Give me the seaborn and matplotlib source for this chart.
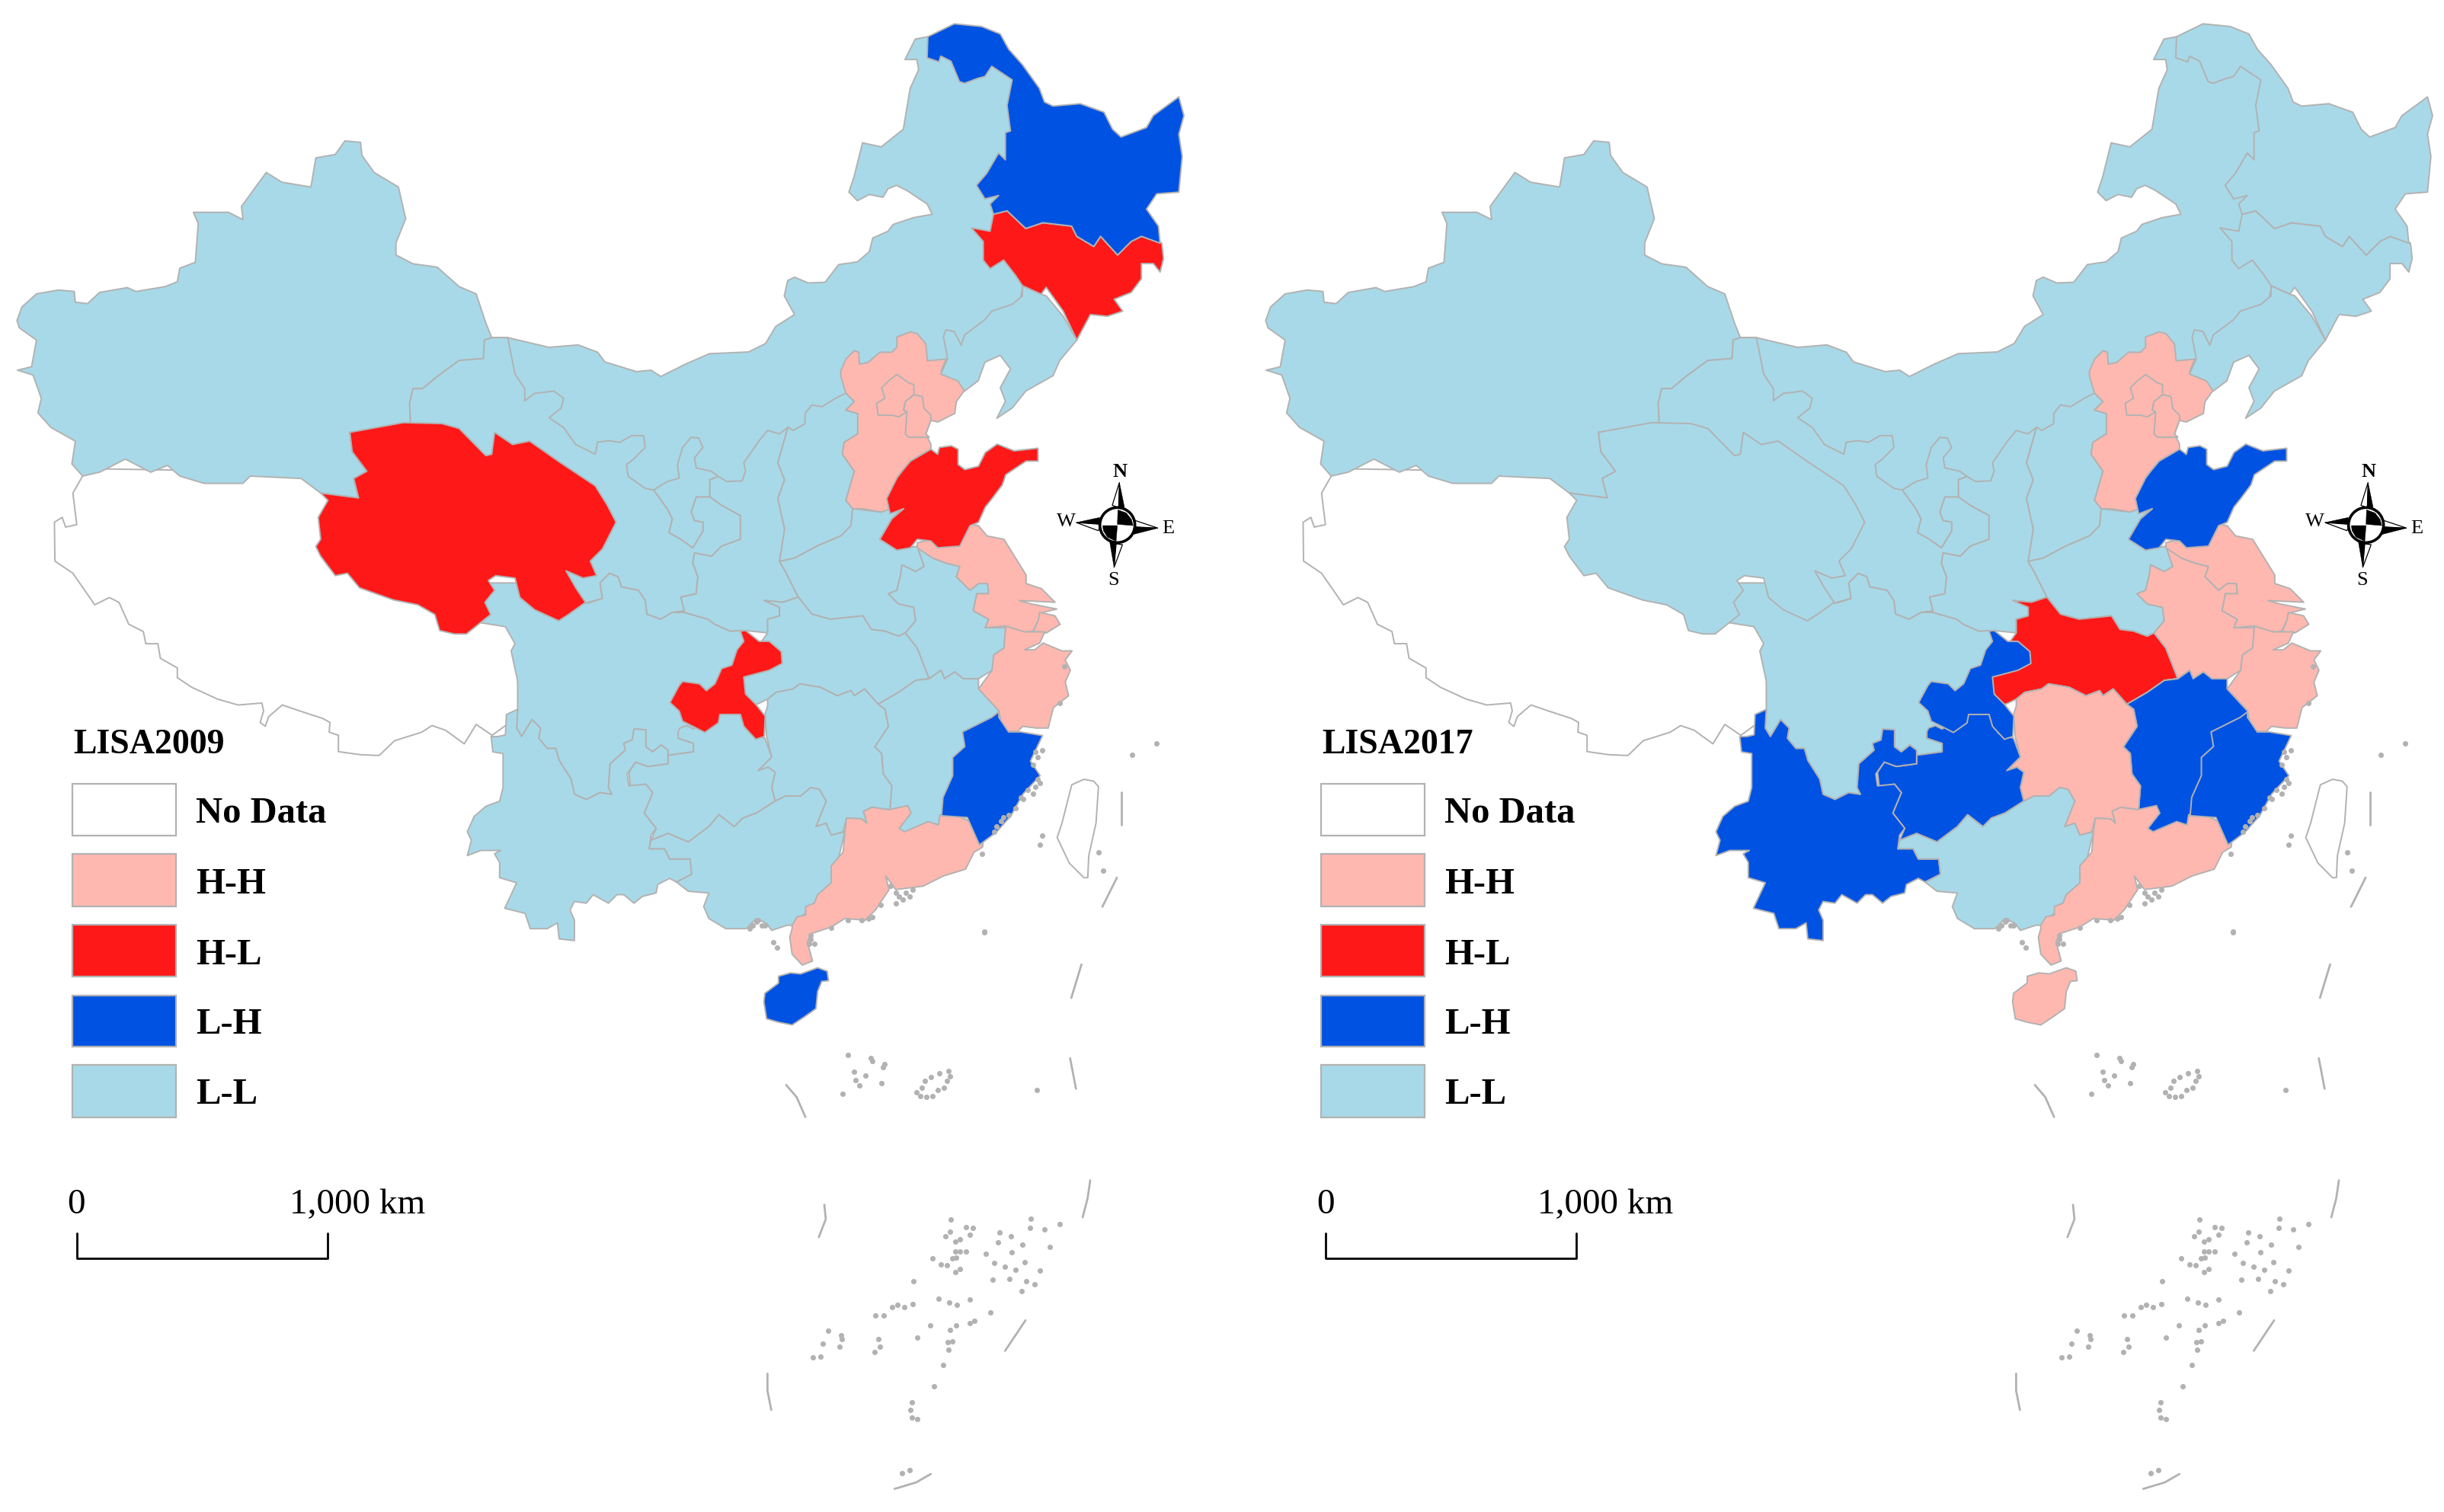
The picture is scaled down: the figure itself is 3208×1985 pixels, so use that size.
import matplotlib
matplotlib.use('Agg')
import matplotlib.pyplot as plt
import numpy as np
import pandas as pd
import seaborn as sns

from matplotlib.patches import Circle, Rectangle


# pixel grids the outlines were read on: x0, y0, x scale, y scale
GRIDS = {
    'A': (0, 0, 1.568, 1.568),
    'B': (900, 0, 2.24, 2.24),
    'C': (600, 650, 1.568, 2.0907),
    'E': (0, 900, 2.24, 1.96),
    'F': (950, 1200, 2.613, 1.997),
    'G': (800, 400, 2.24, 2.24),
    'H': (600, 900, 2.24, 2.24),
    'K': (1350, 580, 3, 3),
}

# province outlines, traced; drawn in the order of PROVINCES so each one only
# has to be exact where it lies over the ones before it
TIBET = [
    ('A', [(170, 980), (150, 1015), (158, 1080), (135, 1085), (128, 1065), (112, 1075), (113, 1155),
           (150, 1180), (195, 1245), (225, 1230), (245, 1240), (265, 1285), (295, 1300), (300, 1325),
           (325, 1325), (330, 1355), (365, 1375), (365, 1395), (395, 1415)]),
    ('E', [(590, 15), (640, 35), (700, 50), (770, 45), (775, 65), (765, 95), (780, 105), (790, 80),
           (830, 50), (880, 65), (950, 85), (970, 95), (968, 120), (995, 128), (995, 170), (1060, 178),
           (1115, 180), (1160, 142), (1240, 120), (1270, 103), (1310, 115), (1365, 150), (1400, 100),
           (1447, 128)]),
    ('A', [(1100, 1450), (1100, 1300), (900, 1100), (800, 1030), (700, 960), (500, 970), (200, 965)]),
]
XINJIANG = [
    ('A', [(35, 660), (45, 632), (75, 605), (120, 597), (153, 600), (155, 622), (180, 625), (205, 602),
           (262, 592), (280, 600), (340, 590), (365, 580), (370, 552), (402, 540), (408, 460), (398, 437),
           (470, 437), (500, 452), (497, 425), (548, 355), (580, 375), (640, 385), (650, 325), (690, 318),
           (710, 290), (742, 293), (745, 320), (770, 355), (820, 385), (835, 450), (815, 500), (815, 525),
           (850, 543), (900, 550), (945, 590), (980, 605), (1000, 665), (1012, 695), (997, 700), (995, 738),
           (945, 742), (900, 775), (870, 800), (850, 800), (843, 830), (845, 870), (720, 890), (725, 930),
           (755, 970), (728, 985), (738, 1025), (660, 1015), (620, 985), (515, 980), (500, 995), (420, 995),
           (370, 980), (345, 958), (310, 972), (258, 945), (205, 972), (170, 980), (148, 955), (155, 908),
           (105, 880), (78, 850), (85, 820), (68, 772), (36, 762), (65, 755), (75, 700), (40, 675)]),
]
INNER_MONGOLIA = [
    ('A', [(1012, 695), (1045, 695), (1130, 715), (1190, 710), (1230, 725), (1245, 745), (1310, 765),
           (1340, 762), (1360, 775), (1410, 750)]),
    ('B', [(70, 1040), (185, 1035), (235, 1010), (265, 960), (320, 925), (290, 870), (300, 825), (320, 815),
           (360, 832), (410, 830), (450, 778), (505, 770), (540, 740), (550, 700), (595, 680), (610, 660),
           (670, 640), (725, 630), (710, 600), (650, 560), (620, 545), (595, 555), (580, 580), (540, 572),
           (505, 590), (480, 565), (495, 520), (520, 420), (575, 432), (640, 380), (660, 260), (685, 205),
           (680, 175), (645, 175), (675, 115), (712, 108), (800, 150), (900, 150), (1000, 230), (1100, 500),
           (1000, 800), (960, 1000)]),
    ('G', [(850, 300), (600, 500), (350, 600), (130, 600), (30, 520), (30, 450)]),
    ('A', [(1200, 1000), (1100, 900), (1020, 800), (1012, 720)]),
]
GANSU = [
    ('A', [(1012, 695), (1045, 695), (1060, 770), (1080, 800), (1080, 825), (1100, 810), (1140, 805),
           (1160, 820), (1155, 840), (1130, 860), (1160, 880), (1185, 915), (1225, 935), (1230, 910)]),
    ('G', [(0, 400), (30, 405), (65, 385), (100, 385), (105, 420), (70, 455), (50, 470), (55, 505), (105, 540),
           (130, 545), (170, 600), (185, 630), (175, 670), (210, 690), (245, 715), (275, 665), (275, 640),
           (250, 635), (240, 610), (255, 565), (295, 565), (330, 590), (385, 620), (385, 690), (330, 710),
           (300, 740), (250, 730), (245, 760), (260, 800), (255, 850), (210, 860), (220, 900), (185, 905),
           (150, 925), (110, 910), (105, 870), (85, 840), (35, 830), (25, 800), (0, 790)]),
    ('A', [(1235, 1200), (1240, 1232), (1210, 1240), (1205, 1242), (1140, 1170), (900, 920), (845, 870),
           (843, 830), (850, 800), (870, 800), (900, 775), (945, 742), (995, 738), (997, 700)]),
]
SICHUAN = [
    ('A', [(1205, 1242), (1215, 1240), (1240, 1232), (1235, 1200)]),
    ('G', [(0, 790), (25, 800), (35, 830), (85, 840), (105, 870), (110, 910), (150, 925), (185, 905), (220, 905),
           (290, 925), (310, 940), (355, 960), (385, 958), (420, 1050), (400, 1170), (300, 1210), (250, 1235)]),
    ('H', [(700, 140), (650, 145), (650, 155), (695, 170), (695, 195), (620, 205), (620, 190), (600, 175),
           (575, 195), (555, 180), (555, 130), (520, 128), (515, 160), (490, 170), (495, 190), (450, 230),
           (445, 300), (455, 320), (420, 315), (380, 335), (345, 320), (335, 275), (300, 220), (290, 185),
           (265, 185), (240, 155), (245, 125), (220, 100), (190, 150), (175, 125), (178, 70), (178, 0)]),
    ('A', [(1065, 1400), (1052, 1340), (1060, 1325), (1040, 1290), (990, 1282), (980, 1200), (1100, 1200)]),
]
QINGHAI = [
    ('A', [(720, 890), (830, 870), (910, 872), (945, 882), (1000, 938), (1012, 935), (1018, 890), (1055, 915),
           (1090, 908), (1150, 950), (1225, 1000), (1250, 1040), (1268, 1075), (1240, 1130), (1215, 1155),
           (1228, 1185), (1200, 1190), (1165, 1175), (1185, 1210), (1205, 1240), (1170, 1265), (1150, 1278),
           (1100, 1255), (1070, 1230), (1060, 1190), (1020, 1185), (1005, 1195), (1018, 1215), (998, 1240),
           (1010, 1265), (985, 1285), (960, 1305), (935, 1305), (905, 1298), (895, 1265), (860, 1245),
           (810, 1235), (740, 1210), (715, 1180), (690, 1185), (660, 1145), (650, 1125), (660, 1110),
           (655, 1065), (675, 1030), (660, 1015), (738, 1025), (728, 985), (755, 970), (725, 930)]),
]
NINGXIA = [
    ('G', [(240, 390), (262, 392), (275, 420), (250, 450), (255, 480), (300, 490), (320, 505), (295, 515),
           (295, 565), (255, 565), (240, 610), (250, 635), (275, 640), (275, 665), (245, 715), (210, 690),
           (175, 670), (185, 630), (170, 600), (130, 545), (170, 520), (205, 510), (200, 470), (215, 420)]),
]
SHAANXI = [
    ('G', [(295, 515), (320, 505), (345, 520), (390, 518), (400, 490), (395, 465), (440, 400), (465, 370),
           (500, 380), (525, 360), (495, 465), (515, 515), (495, 570), (515, 660), (500, 755), (520, 790),
           (555, 860), (510, 875), (455, 870), (500, 890), (500, 915), (465, 925), (465, 965), (395, 958),
           (355, 960), (310, 940), (290, 925), (220, 905), (220, 900), (210, 860), (255, 850), (260, 800),
           (245, 760), (250, 730), (300, 740), (330, 710), (385, 690), (385, 620), (330, 590), (295, 565)]),
]
SHANXI = [
    ('G', [(525, 360), (540, 370), (575, 350), (575, 320), (595, 295), (625, 300), (665, 275), (695, 260),
           (720, 285), (695, 310), (730, 320), (730, 380), (690, 405), (685, 440), (720, 490), (695, 575),
           (715, 600), (710, 650), (680, 680), (610, 710), (545, 745), (500, 755), (515, 660), (495, 570),
           (515, 515), (495, 465)]),
]
HEBEI = [
    ('G', [(680, 195), (695, 160), (720, 135), (733, 140), (735, 175), (760, 170), (795, 140), (830, 140),
           (845, 125), (845, 95), (885, 80), (905, 85), (930, 115), (935, 165), (990, 160), (975, 195),
           (1020, 215), (1045, 250), (1020, 285), (1015, 320), (965, 345), (945, 340), (930, 380), (945, 410),
           (945, 425), (885, 460), (860, 490), (845, 510), (825, 570), (860, 600), (800, 610), (745, 600),
           (715, 600), (695, 575), (720, 490), (685, 440), (690, 405), (730, 380), (730, 320), (695, 310),
           (720, 285), (695, 260), (680, 210)]),
]
BEIJING = [
    ('G', [(845, 205), (880, 230), (895, 235), (895, 265), (870, 285), (865, 310), (875, 315), (850, 330),
           (830, 325), (790, 325), (785, 290), (810, 275), (800, 245), (820, 225)]),
]
TIANJIN = [
    ('G', [(895, 265), (920, 270), (925, 305), (945, 325), (945, 340), (930, 380), (940, 390), (880, 390),
           (870, 380), (875, 315), (865, 310), (870, 285)]),
]
LIAONING = [
    ('B', [(990, 840), (990, 870), (960, 895), (900, 915), (880, 940), (820, 985), (810, 1015), (790, 975),
           (765, 970), (758, 990), (770, 1055), (750, 1100), (800, 1120), (820, 1150), (860, 1120), (880, 1065),
           (925, 1045), (955, 1085), (925, 1140), (940, 1180), (915, 1230), (960, 1200), (1000, 1150),
           (1080, 1105), (1100, 1060), (1150, 1000), (1110, 930), (1060, 870), (1045, 865)]),
]
JILIN = [
    ('B', [(905, 630), (895, 680), (840, 670), (875, 710), (875, 765), (895, 790), (935, 765), (970, 810),
           (990, 840), (1045, 865), (1060, 845), (1110, 915), (1150, 1000), (1190, 925), (1240, 930), (1285, 915),
           (1260, 880), (1310, 860), (1340, 820), (1340, 775), (1375, 775), (1395, 800), (1405, 760), (1400, 715),
           (1340, 695), (1310, 710), (1270, 750), (1220, 695), (1200, 725), (1150, 695), (1135, 665), (1050, 655),
           (1000, 672), (945, 620)]),
]
HEILONGJIANG = [
    ('B', [(712, 108), (790, 70), (870, 78), (925, 100), (950, 145), (990, 190), (1040, 260), (1055, 300),
           (1080, 312), (1160, 305), (1230, 330), (1255, 380), (1280, 403), (1355, 375), (1375, 340), (1450, 285),
           (1465, 340), (1450, 395), (1460, 460), (1450, 565), (1385, 570), (1355, 615), (1390, 665), (1395, 715),
           (1340, 695), (1310, 710), (1270, 750), (1220, 695), (1200, 725), (1150, 695), (1135, 665), (1050, 655),
           (1000, 672), (945, 620), (905, 630), (895, 600), (920, 575), (900, 580), (880, 585), (855, 545),
           (885, 510), (920, 450), (940, 470), (940, 390), (955, 385), (945, 310), (960, 235), (900, 195),
           (880, 225), (860, 230), (820, 245), (805, 240), (780, 180), (750, 165), (745, 182), (710, 170)]),
]
HENAN = [
    ('G', [(500, 755), (545, 745), (610, 710), (680, 680), (710, 650), (715, 600), (800, 610), (825, 600),
           (860, 600), (830, 630), (795, 690), (850, 720), (905, 710), (925, 770), (900, 785), (860, 765),
           (855, 800), (845, 840), (820, 850), (850, 880), (895, 890), (900, 930), (870, 965), (850, 975),
           (810, 960), (770, 955), (745, 915), (650, 925), (595, 910), (555, 860), (520, 790)]),
]
HUBEI = [
    ('G', [(555, 860), (595, 910), (650, 925), (745, 915), (770, 955), (810, 960), (850, 975), (870, 965),
           (905, 1010), (940, 1100), (900, 1105), (850, 1140), (790, 1175), (750, 1130), (720, 1150), (710, 1135),
           (670, 1150), (620, 1125), (560, 1115), (540, 1130), (490, 1140), (465, 1160), (440, 1172), (420, 1180),
           (370, 1090), (440, 1000), (465, 965), (465, 925), (500, 915), (500, 890), (455, 870), (510, 875)]),
]
ANHUI = [
    ('G', [(900, 1105), (940, 1100), (975, 1075), (985, 1100), (1015, 1080), (1040, 1100), (1085, 1100),
           (1125, 1075), (1130, 1030), (1160, 1010), (1165, 950), (1105, 950), (1115, 925), (1070, 900),
           (1080, 850), (1115, 850), (1112, 820), (1085, 820), (1060, 840), (1020, 800), (1030, 770), (990, 760),
           (950, 745), (925, 720), (905, 710), (925, 770), (900, 785), (860, 765), (855, 800), (845, 840),
           (820, 850), (850, 880), (895, 890), (900, 930), (870, 965), (905, 1010), (940, 1100)]),
]
JIANGSU = [
    ('G', [(905, 700), (945, 690), (965, 700), (1030, 700), (1060, 645), (1085, 650), (1110, 680), (1160, 690),
           (1225, 795), (1225, 820), (1270, 835), (1310, 875), (1205, 870), (1240, 880), (1315, 895), (1275, 905),
           (1260, 930), (1245, 960), (1220, 965), (1165, 945), (1105, 950), (1115, 925), (1070, 900), (1080, 850),
           (1115, 850), (1112, 820), (1085, 820), (1060, 840), (1020, 800), (1030, 770), (990, 760), (950, 745),
           (905, 715)]),
]
SHANDONG = [
    ('G', [(945, 425), (965, 440), (970, 420), (1005, 415), (1025, 425), (1025, 470), (1045, 485), (1085, 475),
           (1105, 435), (1140, 410), (1190, 430), (1260, 422), (1260, 460), (1225, 460), (1165, 500), (1155, 530),
           (1125, 570), (1105, 595), (1085, 640), (1060, 650), (1030, 710), (965, 715), (945, 695), (905, 690),
           (885, 715), (845, 722), (795, 690), (830, 630), (865, 600), (825, 615), (815, 570), (845, 510),
           (860, 490), (885, 460)]),
]
SHANGHAI = [
    ('G', [(1265, 905), (1310, 915), (1325, 940), (1285, 965), (1245, 965), (1260, 930)]),
]
ZHEJIANG = [
    ('G', [(1165, 945), (1220, 962), (1245, 962), (1280, 962), (1265, 995), (1220, 1015), (1250, 1015),
           (1275, 995), (1330, 1018), (1360, 1018), (1340, 1045), (1355, 1075), (1340, 1110), (1350, 1150),
           (1305, 1185), (1290, 1245), (1255, 1245), (1215, 1240), (1200, 1255), (1165, 1255), (1145, 1215),
           (1145, 1195), (1085, 1130), (1125, 1075), (1130, 1030), (1160, 1010)]),
]
JIANGXI = [
    ('G', [(790, 1175), (850, 1140), (900, 1105), (940, 1100), (975, 1075), (985, 1100), (1015, 1080),
           (1040, 1100), (1085, 1100), (1085, 1130), (1145, 1195), (1160, 1270), (1100, 1400), (1060, 1500)]),
    ('H', [(1425, 400), (1420, 450), (1290, 450), (1240, 400), (1272, 365)]),
    ('G', [(825, 1480), (830, 1415), (805, 1380), (800, 1320), (780, 1300), (820, 1240), (810, 1190)]),
]
HUNAN = [
    ('G', [(457, 1205), (465, 1180), (465, 1160), (490, 1140), (540, 1130), (560, 1115), (620, 1125), (670, 1150),
           (710, 1135), (720, 1150), (750, 1130), (790, 1175), (810, 1190), (820, 1240), (780, 1300), (800, 1320),
           (805, 1380), (830, 1415), (825, 1480)]),
    ('H', [(1272, 365), (1220, 358), (1195, 370), (1205, 405), (1190, 392), (1145, 390), (1135, 430),
           (1100, 440), (1085, 405), (1055, 415), (1085, 340), (1065, 305), (1040, 300), (1010, 325), (965, 325),
           (935, 340), (925, 300), (935, 255), (915, 240), (885, 250), (925, 210), (910, 150)]),
]
GUIZHOU = [
    ('H', [(505, 255), (525, 225), (560, 238), (620, 230), (620, 205), (695, 195), (695, 170), (650, 155),
           (650, 135), (655, 125), (675, 118), (695, 128), (705, 120), (740, 100), (770, 80), (840, 85),
           (860, 140), (905, 155), (925, 210), (885, 250), (915, 240), (935, 255), (925, 300), (935, 340),
           (880, 375), (840, 390), (815, 415), (770, 380), (740, 415), (680, 460), (620, 435), (570, 455),
           (585, 420), (550, 375), (575, 315), (555, 290), (510, 300)]),
]
YUNNAN = [
    ('H', [(145, 85), (178, 70), (175, 125), (190, 150), (220, 100), (245, 125), (240, 155), (265, 185),
           (290, 185), (300, 220), (335, 275), (345, 320), (380, 335), (420, 315), (455, 320), (445, 300),
           (450, 230), (495, 190), (490, 170), (515, 160), (520, 128), (555, 130), (555, 180), (575, 195),
           (600, 175), (620, 190), (620, 230), (560, 238), (525, 225), (500, 260), (505, 295), (555, 290),
           (575, 315), (550, 375), (585, 420), (570, 440), (565, 480), (610, 480), (625, 510), (685, 510),
           (690, 555), (645, 578), (625, 567), (590, 585), (585, 610), (545, 620), (520, 640), (490, 615),
           (470, 615), (445, 640), (400, 615), (380, 640), (345, 635), (332, 660), (345, 690), (345, 750),
           (300, 745), (295, 698), (265, 715), (215, 715), (200, 670), (140, 655), (175, 580), (125, 565),
           (125, 520), (110, 495), (128, 485), (70, 485), (30, 500), (42, 455), (30, 430), (50, 385), (85, 355),
           (125, 340), (135, 300), (135, 200), (105, 195), (100, 150), (120, 150), (142, 145)]),
]
CHONGQING = [
    ('G', [(385, 960), (400, 958), (440, 990), (470, 990), (505, 1020), (508, 1055), (470, 1075), (395, 1095),
           (400, 1145), (430, 1175), (458, 1210), (455, 1270), (430, 1278), (395, 1240), (385, 1205), (355, 1205),
           (325, 1205), (320, 1230), (280, 1258), (255, 1245), (215, 1225), (205, 1195), (178, 1170), (205, 1120),
           (215, 1108), (265, 1115), (285, 1135), (310, 1115), (330, 1070), (360, 1060), (375, 1015), (395, 990)]),
]
GUANGXI = [
    ('H', [(1140, 430), (1100, 440), (1085, 405), (1055, 415), (1085, 340), (1065, 305), (1040, 300), (1010, 325),
           (965, 325), (935, 340), (880, 375), (840, 390), (815, 415), (770, 380), (740, 415), (680, 460),
           (620, 435), (570, 455), (565, 480), (610, 480), (625, 510), (685, 510), (690, 555), (645, 578),
           (680, 605), (740, 610), (725, 650), (740, 685), (790, 715), (850, 715), (880, 685), (910, 700),
           (925, 720), (970, 705), (985, 705), (1100, 600)]),
]
GUANGDONG = [
    ('H', [(985, 705), (1000, 680), (1025, 675), (1025, 650), (1050, 640), (1060, 615), (1100, 580), (1100, 530),
           (1135, 490), (1140, 430), (1145, 390), (1190, 392), (1205, 405), (1195, 370), (1220, 358), (1270, 365),
           (1325, 353), (1335, 375), (1300, 420), (1315, 430), (1385, 400), (1415, 410), (1420, 380), (1445, 370),
           (1550, 420), (1545, 475), (1520, 490), (1495, 540), (1430, 560), (1370, 590), (1290, 600), (1260, 560),
           (1270, 600), (1230, 660), (1200, 690), (1140, 685), (1100, 710), (1040, 730), (1030, 755), (1045, 810),
           (1015, 822), (985, 790), (978, 740), (985, 715)]),
]
FUJIAN = [
    ('C', [(1115, 595), (1100, 610), (1040, 650), (1045, 690), (1020, 720), (1020, 770), (1000, 830), (997, 880),
           (1050, 885), (1075, 960), (1110, 925), (1140, 880), (1165, 820), (1200, 770), (1180, 730), (1205, 660),
           (1160, 650), (1135, 650), (1115, 610)]),
]
HAINAN = [
    ('H', [(945, 855), (980, 845), (1010, 848), (1060, 830), (1088, 840), (1092, 868), (1072, 870), (1060, 900),
           (1055, 950), (1020, 975), (985, 998), (945, 990), (910, 980), (902, 930), (905, 905), (945, 875)]),
]
TAIWAN = [
    ('C', [(1290, 780), (1265, 795), (1245, 900), (1235, 940), (1260, 1010), (1290, 1050), (1298, 1050),
           (1300, 990), (1315, 900), (1320, 800), (1310, 785)]),
]

PROVINCES = [
    TIBET, XINJIANG, INNER_MONGOLIA, GANSU, SICHUAN, QINGHAI, NINGXIA, SHAANXI, SHANXI, HEBEI, BEIJING, TIANJIN,
    LIAONING, JILIN, HEILONGJIANG, HENAN, HUBEI, ANHUI, JIANGSU, SHANDONG, SHANGHAI, ZHEJIANG, JIANGXI, HUNAN,
    GUIZHOU, YUNNAN, CHONGQING, GUANGXI, GUANGDONG, FUJIAN, HAINAN, TAIWAN,
]

# class of each province, same order as PROVINCES
LISA_2009 = [
    'No Data', 'L-L', 'L-L', 'L-L', 'L-L', 'H-L', 'L-L', 'L-L', 'L-L', 'H-H', 'H-H', 'H-H',
    'L-L', 'H-L', 'L-H', 'L-L', 'L-L', 'L-L', 'H-H', 'H-L', 'H-H', 'H-H', 'L-L', 'L-L',
    'L-L', 'L-L', 'H-L', 'L-L', 'H-H', 'L-H', 'L-H', 'No Data',
]
LISA_2017 = [
    'No Data', 'L-L', 'L-L', 'L-L', 'L-L', 'L-L', 'L-L', 'L-L', 'L-L', 'H-H', 'H-H', 'H-H',
    'L-L', 'L-L', 'L-L', 'L-L', 'H-L', 'H-H', 'H-H', 'L-H', 'H-H', 'H-H', 'L-H', 'H-H',
    'L-H', 'L-H', 'L-H', 'L-L', 'H-H', 'L-H', 'H-H', 'No Data',
]

CLASSES = ['No Data', 'H-H', 'H-L', 'L-H', 'L-L']
CLASS_COLORS = sns.color_palette(['#ffffff', '#ffb8b0', '#ff1818', '#0052e3', '#a8d9e8'])
EDGE = '#b2b2b2'

# small islands and coast blobs
ISLANDS_F = [
    (427, 369), (505, 378), (510, 385), (552, 393), (547, 402), (447, 413), (487, 424), (452, 436), (465, 449),
    (540, 443), (408, 472), (770, 412), (740, 418), (710, 428), (690, 437), (680, 455), (660, 468), (675, 477),
    (695, 480), (715, 478), (735, 462), (755, 455), (765, 437), (775, 425), (1075, 461), (778, 800), (775, 832),
    (760, 845), (795, 858), (810, 853), (830, 820), (855, 823), (845, 840), (810, 885), (832, 885), (795, 885),
    (715, 903), (745, 918), (765, 920), (783, 903), (797, 900), (810, 930), (795, 938), (900, 890), (945, 835),
    (940, 860), (985, 845), (987, 887), (1025, 866), (1052, 798), (1050, 823), (1100, 826), (1153, 812),
    (1118, 873), (1033, 913), (927, 915), (965, 924), (1000, 932), (1084, 935), (922, 958), (980, 957), (1038, 963),
    (1065, 970), (1022, 988), (650, 962), (737, 1008), (773, 1019), (800, 1025), (845, 1010), (915, 1045), (860, 1067),
    (845, 1073), (707, 1078), (797, 1079), (777, 1091), (665, 1111), (768, 1122), (783, 1121), (772, 1142), (753, 1182),
    (720, 1239), (578, 1031), (596, 1024), (620, 1031), (649, 1022), (520, 1053), (548, 1053), (358, 1092), (402, 1105),
    (405, 1115), (340, 1126), (398, 1135), (306, 1163), (332, 1161), (530, 1115), (535, 1135), (518, 1148), (645, 1280),
    (640, 1300), (645, 1320), (665, 1325), (612, 1465), (637, 1457),
]
ISLANDS_H = [
    (880, 695), (860, 715), (895, 705), (870, 705), (885, 690), (905, 705), (1300, 620), (1320, 610), (1340, 600),
    (1310, 630), (1330, 620), (1290, 610), (1210, 685), (1220, 680), (1190, 690), (1150, 690), (1100, 712), (1040, 735),
    (1035, 760), (1050, 760), (1040, 745), (930, 755), (940, 770), (1550, 725), (1290, 640), (1275, 590), (1245, 645),
]
ISLANDS_C = [
    (1195, 780), (1185, 820), (1160, 830), (1125, 885), (1110, 910), (1190, 705), (1205, 700), (1250, 470), (1240, 570),
    (1200, 790), (1190, 800), (1175, 810), (1165, 835), (1150, 860), (1135, 878), (1120, 895), (1105, 925), (1185, 740),
    (1195, 720), (1080, 985), (1205, 935), (1200, 960), (1390, 712), (1440, 682), (1320, 980), (1330, 1030), (1085, 1197),
]
NINE_DASH_F = [
    [(1227, 132), (1192, 220)],
    [(1188, 378), (1208, 458)],
    [(1257, 698), (1248, 745), (1231, 795)],
    [(1035, 1065), (965, 1145)],
    [(710, 1468), (660, 1490), (586, 1507)],
    [(150, 1205), (150, 1250), (163, 1300)],
    [(345, 762), (350, 800), (326, 847)],
    [(214, 448), (250, 480), (280, 532)],
]
NINE_DASH_C = [
    [(1367, 815), (1367, 905)],
    [(1358, 1050), (1328, 1130)],
]

# compass, on grid K
COMPASS_CENTER = (350, 328)
COMPASS_BLACK = [
    [(358, 160), (378, 258), (355, 260)],
    [(188, 318), (280, 298), (285, 325)],
    [(337, 495), (320, 395), (345, 402)],
    [(510, 340), (412, 365), (415, 335)],
    [(352, 268), (385, 280), (405, 305), (412, 330), (350, 325)],
    [(292, 330), (350, 330), (345, 392), (310, 375), (295, 350)],
]
COMPASS_WHITE = [
    [(358, 160), (330, 250), (355, 260)],
    [(188, 318), (275, 350), (285, 325)],
    [(337, 495), (370, 405), (345, 402)],
    [(510, 340), (420, 310), (415, 335)],
]
COMPASS_LETTERS = [('N', 360, 120, 'bold'), ('W', 148, 315, 'normal'), ('E', 550, 343, 'normal'), ('S', 335, 545, 'normal')]

LEGEND_ROWS = [(1028.6, 1097.4), (1121.4, 1189.8), (1213.8, 1282), (1306.6, 1374.5), (1398.5, 1466.8)]
LEGEND_TEXT_Y = [1068, 1160.6, 1253.5, 1345, 1437]


def to_map(grid, points):
    x0, y0, sx, sy = GRIDS[grid]
    pts = np.array(points, dtype=float)
    return x0 + pts[:, 0] / sx, y0 + pts[:, 1] / sy


def outline(pieces):
    parts = [to_map(grid, points) for grid, points in pieces]
    return np.concatenate([p[0] for p in parts]), np.concatenate([p[1] for p in parts])


def draw_compass(ax):
    for tri in COMPASS_WHITE:
        x, y = to_map('K', tri)
        ax.fill(x, y, facecolor='white', edgecolor='black', lw=0.9, zorder=5)
    cx, cy = to_map('K', [COMPASS_CENTER])
    ax.add_patch(Circle((cx[0], cy[0]), 23, facecolor='white', edgecolor='black', lw=2.6, zorder=6))
    for shape in COMPASS_BLACK:
        x, y = to_map('K', shape)
        ax.fill(x, y, facecolor='black', edgecolor='black', lw=0.3, zorder=7)
    for letter, lx, ly, weight in COMPASS_LETTERS:
        x, y = to_map('K', [(lx, ly)])
        ax.text(x[0], y[0], letter, fontsize=19, fontweight=weight, ha='center', va='center')


def draw_panel(ax, classes, title):
    for pieces, cls in zip(PROVINCES, classes):
        x, y = outline(pieces)
        ax.fill(x, y, facecolor=CLASS_COLORS[CLASSES.index(cls)], edgecolor=EDGE, lw=1.4, joinstyle='round')

    # islands sit on the coast and the south sea
    frames = []
    for grid, points in [('F', ISLANDS_F), ('H', ISLANDS_H), ('C', ISLANDS_C)]:
        x, y = to_map(grid, points)
        frames.append(pd.DataFrame({'x': x, 'y': y}))
    sns.scatterplot(data=pd.concat(frames), x='x', y='y', ax=ax, color=EDGE, s=26, linewidth=0, legend=False)

    for grid, dashes in [('F', NINE_DASH_F), ('C', NINE_DASH_C)]:
        for dash in dashes:
            x, y = to_map(grid, dash)
            ax.plot(x, y, color=EDGE, lw=2.0)

    ax.text(96, 978, title, fontsize=33, fontweight='bold', va='center')
    for cls, color, (top, bottom), ty in zip(CLASSES, CLASS_COLORS, LEGEND_ROWS, LEGEND_TEXT_Y):
        ax.add_patch(Rectangle((95, top), 136, bottom - top, facecolor=color, edgecolor=EDGE, lw=1.6))
        ax.text(257, ty, cls, fontsize=35, fontweight='bold', va='center')

    ax.text(100.5, 1582, '0', fontsize=34, ha='center', va='center')
    ax.text(379.5, 1582, '1,000 km', fontsize=34, va='center')
    ax.plot([101, 101, 429.5, 429.5], [1619, 1652, 1652, 1619], color='black', lw=2.0)

    draw_compass(ax)
    ax.set_xlabel('')
    ax.set_ylabel('')
    ax.set_xticks([])
    ax.set_yticks([])
    sns.despine(ax=ax, left=True, bottom=True)


sns.set_theme(style='white')
plt.rcParams['font.family'] = ['Liberation Serif', 'DejaVu Serif']
plt.rcParams['text.color'] = 'black'

PANEL_SHIFT = 1639
fig = plt.figure(figsize=(32.08, 19.85), dpi=100)
ax_left = fig.add_axes([0, 0, PANEL_SHIFT / 3208, 1])
ax_right = fig.add_axes([PANEL_SHIFT / 3208, 0, 1 - PANEL_SHIFT / 3208, 1])

draw_panel(ax_left, LISA_2009, 'LISA2009')
draw_panel(ax_right, LISA_2017, 'LISA2017')

ax_left.set_xlim(0, PANEL_SHIFT)
ax_right.set_xlim(0, 3208 - PANEL_SHIFT)
for ax in (ax_left, ax_right):
    ax.set_ylim(1985, 0)
    ax.patch.set_alpha(0)

fig.savefig('out.png', dpi=100, facecolor='white')
plt.close(fig)
